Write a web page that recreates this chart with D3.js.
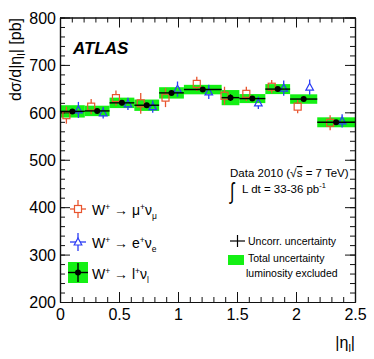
<!DOCTYPE html>
<html>
<head>
<meta charset="utf-8">
<script src="https://cdn.jsdelivr.net/npm/d3@7"></script>
<style>
body { margin: 0; background: #fff; }
svg { font-family: "Liberation Sans", Arial, sans-serif; }
</style>
</head>
<body>
<svg width="374" height="359"></svg>
<script>
// bins in |eta|
var binLo = [0, 0.21, 0.42, 0.63, 0.84, 1.05, 1.37, 1.52, 1.74, 1.95, 2.18];
var binHi = [0.21, 0.42, 0.63, 0.84, 1.05, 1.37, 1.52, 1.74, 1.95, 2.18, 2.5];

// combined W+ -> l+ nu
var combined = [602, 603, 620, 615, 641, 648, 631, 629, 649, 628, 579];
var combUncorr = [5, 5, 5, 5, 5, 4, 7, 4, 5, 5, 5];
var combTotal = [13, 11, 11, 12, 12, 10, 16, 9.5, 10.5, 10, 10.5];

// muon channel
var muon = [594, 612, 630, 619, 631, 660, 635, 639, 654, 612, 578];
var muonErr = [18, 16, 16, 22, 20, 15, 19, 15, 14, 14, 16];

// electron channel (no point in the crack bin)
var elec = [605, 599, 618, 612, 649, 643, null, 620, 651, 653, 582];
var elecErr = [17, 12, 13, 13, 16, 15, null, 13, 16, 16, 14];

var xTicks = [0, 0.5, 1, 1.5, 2, 2.5];
var yTicks = [200, 300, 400, 500, 600, 700, 800];

var svg = d3.select("svg");
var x = d3.scaleLinear().domain([0, 2.5]).range([60, 355]);
var y = d3.scaleLinear().domain([200, 800]).range([302, 17.5]);

var red = "#e8552f", blue = "#2b3cf5", green = "#14f014";

var bins = binLo.map(function(lo, i) {
    return {lo: lo, hi: binHi[i], c: (lo + binHi[i]) / 2, v: combined[i],
            eu: combUncorr[i], et: combTotal[i], mu: muon[i], emu: muonErr[i],
            el: elec[i], eel: elecErr[i]};
});

// total uncertainty boxes
svg.selectAll(".tot").data(bins).enter().append("rect")
    .attr("class", "tot")
    .attr("x", function(d) { return x(d.lo); })
    .attr("width", function(d) { return x(d.hi) - x(d.lo); })
    .attr("y", function(d) { return y(d.v + d.et); })
    .attr("height", function(d) { return y(d.v - d.et) - y(d.v + d.et); })
    .attr("fill", green);

// axes
function frame(axis, tr, size, ticks, labels) {
    var g = svg.append("g").attr("transform", tr)
        .call(axis.tickValues(ticks).tickSize(size).tickSizeOuter(0)
            .tickFormat(labels ? d3.format("") : ""));
    g.selectAll("line").attr("stroke", "#111").attr("stroke-width", 1);
    g.select(".domain").attr("stroke", "#111").attr("stroke-width", 1.2);
    return g;
}
var xMinor = d3.range(0, 2.5001, 0.1).map(function(v) { return +v.toFixed(1); });
var yMinor = d3.range(200, 801, 20);

var gx = frame(d3.axisBottom(x), "translate(0,302)", -10, xTicks, true);
frame(d3.axisBottom(x), "translate(0,302)", -5, xMinor, false);
frame(d3.axisTop(x), "translate(0,17.5)", -10, xTicks, false);
frame(d3.axisTop(x), "translate(0,17.5)", -5, xMinor, false);
var gy = frame(d3.axisLeft(y), "translate(60,0)", -10, yTicks, true);
frame(d3.axisLeft(y), "translate(60,0)", -5, yMinor, false);
frame(d3.axisRight(y), "translate(355,0)", -10, yTicks, false);
frame(d3.axisRight(y), "translate(355,0)", -5, yMinor, false);

gx.selectAll("text").attr("font-size", 16).attr("fill", "#000").attr("y", 7)
    .attr("dy", "0.71em")
    .text(function(d) { return d3.format("")(d); });
gy.selectAll("text").attr("font-size", 16).attr("fill", "#000").attr("x", -4)
    .attr("dy", "0.36em");

// muon points (shifted left)
var mu = svg.selectAll(".mu").data(bins).enter().append("g").attr("class", "mu")
    .attr("transform", function(d) { return "translate(" + (x(d.c) - 6) + ",0)"; });
mu.append("line").attr("y1", function(d) { return y(d.mu + d.emu); })
    .attr("y2", function(d) { return y(d.mu) - 3.5; })
    .attr("stroke", red).attr("stroke-width", 1.3);
mu.append("line").attr("y1", function(d) { return y(d.mu) + 3.5; })
    .attr("y2", function(d) { return y(d.mu - d.emu); })
    .attr("stroke", red).attr("stroke-width", 1.3);
mu.append("rect").attr("x", -3.5).attr("width", 7).attr("height", 7)
    .attr("y", function(d) { return y(d.mu) - 3.5; })
    .attr("fill", "none").attr("stroke", red).attr("stroke-width", 1.2);

// electron points (shifted right)
var el = svg.selectAll(".el").data(bins.filter(function(d) { return d.el != null; }))
    .enter().append("g").attr("class", "el")
    .attr("transform", function(d) { return "translate(" + (x(d.c) + 6) + ",0)"; });
el.append("line").attr("y1", function(d) { return y(d.el + d.eel); })
    .attr("y2", function(d) { return y(d.el) - 4; })
    .attr("stroke", blue).attr("stroke-width", 1.3);
el.append("line").attr("y1", function(d) { return y(d.el) + 3; })
    .attr("y2", function(d) { return y(d.el - d.eel); })
    .attr("stroke", blue).attr("stroke-width", 1.3);
el.append("path")
    .attr("d", function(d) { var c = y(d.el); return "M0," + (c - 4) + "L3.8," + (c + 3) + "L-3.8," + (c + 3) + "Z"; })
    .attr("fill", "none").attr("stroke", blue).attr("stroke-width", 1.2);

// combined points
var cb = svg.selectAll(".cb").data(bins).enter().append("g").attr("class", "cb");
cb.append("line").attr("x1", function(d) { return x(d.lo); }).attr("x2", function(d) { return x(d.hi); })
    .attr("y1", function(d) { return y(d.v); }).attr("y2", function(d) { return y(d.v); })
    .attr("stroke", "#000").attr("stroke-width", 1.4);
cb.append("line").attr("x1", function(d) { return x(d.c); }).attr("x2", function(d) { return x(d.c); })
    .attr("y1", function(d) { return y(d.v + d.eu); }).attr("y2", function(d) { return y(d.v - d.eu); })
    .attr("stroke", "#000").attr("stroke-width", 1.4);
cb.append("circle").attr("cx", function(d) { return x(d.c); }).attr("cy", function(d) { return y(d.v); })
    .attr("r", 3).attr("fill", "#000");

// axis titles
var yt = svg.append("text").attr("transform", "translate(21,18) rotate(-90)")
    .attr("text-anchor", "end").attr("font-size", 16);
yt.append("tspan").text("dσ/d|η");
yt.append("tspan").attr("font-size", 11).attr("dy", 4).text("l");
yt.append("tspan").attr("dy", -4).text("| [pb]");

var xt = svg.append("text").attr("x", 355).attr("y", 348).attr("text-anchor", "end").attr("font-size", 16);
xt.append("tspan").text("|η");
xt.append("tspan").attr("font-size", 11).attr("dy", 4).text("l");
xt.append("tspan").attr("dy", -4).text("|");

svg.append("text").attr("x", 73).attr("y", 54).attr("font-size", 17)
    .attr("font-weight", "bold").attr("font-style", "italic").text("ATLAS");

// left legend
function legText(yy, lep, nu) {
    var t = svg.append("text").attr("x", 92).attr("y", yy).attr("font-size", 14);
    t.append("tspan").text("W");
    t.append("tspan").attr("font-size", 8.5).attr("dy", -5).text("+");
    t.append("tspan").attr("dy", 5).text(" → " + lep);
    t.append("tspan").attr("font-size", 8.5).attr("dy", -5).text("+");
    t.append("tspan").attr("dy", 5).text("ν");
    t.append("tspan").attr("font-size", 8.5).attr("dy", 4).text(nu);
}
var lx = 78;
svg.append("line").attr("x1", lx - 8).attr("x2", lx + 8).attr("y1", 209).attr("y2", 209).attr("stroke", red).attr("stroke-width", 1.3);
svg.append("line").attr("x1", lx).attr("x2", lx).attr("y1", 200).attr("y2", 218).attr("stroke", red).attr("stroke-width", 1.3);
svg.append("rect").attr("x", lx - 3.5).attr("y", 205.5).attr("width", 7).attr("height", 7).attr("fill", "#fff").attr("stroke", red).attr("stroke-width", 1.2);
legText(215, "μ", "μ");

svg.append("line").attr("x1", lx - 8).attr("x2", lx + 8).attr("y1", 242).attr("y2", 242).attr("stroke", blue).attr("stroke-width", 1.3);
svg.append("line").attr("x1", lx).attr("x2", lx).attr("y1", 233).attr("y2", 251).attr("stroke", blue).attr("stroke-width", 1.3);
svg.append("path").attr("d", "M" + lx + ",238L" + (lx + 3.8) + ",245L" + (lx - 3.8) + ",245Z").attr("fill", "#fff").attr("stroke", blue).attr("stroke-width", 1.2);
legText(248, "e", "e");

svg.append("rect").attr("x", 68).attr("y", 262).attr("width", 20).attr("height", 21).attr("fill", green);
svg.append("line").attr("x1", 68).attr("x2", 88).attr("y1", 272.5).attr("y2", 272.5).attr("stroke", "#000").attr("stroke-width", 1.4);
svg.append("line").attr("x1", lx).attr("x2", lx).attr("y1", 263).attr("y2", 282).attr("stroke", "#000").attr("stroke-width", 1.4);
svg.append("circle").attr("cx", lx).attr("cy", 272.5).attr("r", 3).attr("fill", "#000");
legText(279, "l", "l");

// right legend
var d1 = svg.append("text").attr("x", 230).attr("y", 177).attr("font-size", 11.5);
d1.append("tspan").text("Data 2010 (");
d1.append("tspan").text("√").attr("font-size", 12);
d1.append("tspan").attr("text-decoration", "overline").text("s");
d1.append("tspan").text(" = 7 TeV)");
svg.append("text").attr("transform", "translate(230,199) scale(0.7,1)").attr("font-size", 23).text("∫");
var d2 = svg.append("text").attr("x", 242).attr("y", 193).attr("font-size", 11.5);
d2.append("tspan").text("L dt = 33-36 pb");
d2.append("tspan").attr("font-size", 7.5).attr("dy", -5).text("-1");

svg.append("line").attr("x1", 230).attr("x2", 245).attr("y1", 241).attr("y2", 241).attr("stroke", "#000").attr("stroke-width", 1.2);
svg.append("line").attr("x1", 237.5).attr("x2", 237.5).attr("y1", 235).attr("y2", 247).attr("stroke", "#000").attr("stroke-width", 1.2);
svg.append("text").attr("x", 248).attr("y", 245).attr("font-size", 10.5).text("Uncorr. uncertainty");
svg.append("rect").attr("x", 228).attr("y", 255).attr("width", 16).attr("height", 10).attr("fill", green);
svg.append("text").attr("x", 248).attr("y", 262).attr("font-size", 10.5).text("Total uncertainty");
svg.append("text").attr("x", 246).attr("y", 277).attr("font-size", 10.5).text("luminosity excluded");
</script>
</body>
</html>
